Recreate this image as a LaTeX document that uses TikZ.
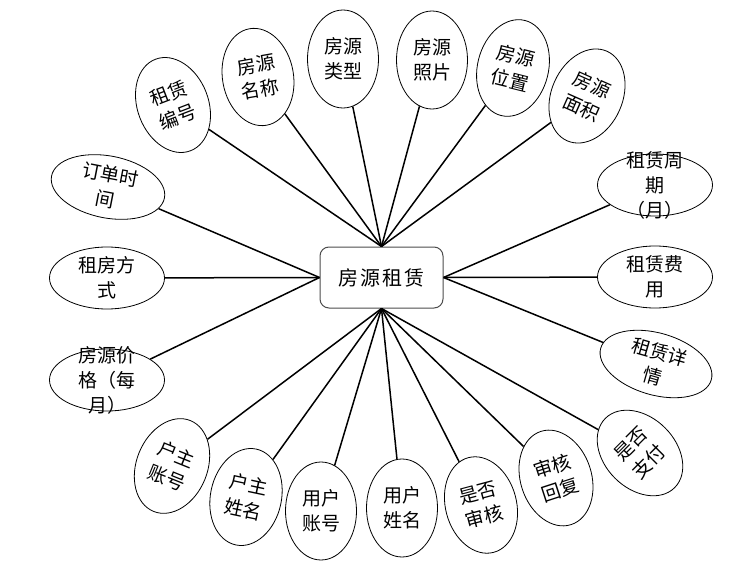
\documentclass[tikz,border=0pt]{standalone}
\usepackage{fontspec}
\setmainfont{Noto Sans CJK SC}
\usetikzlibrary{shapes.geometric}
\tikzset{
  vattr/.style={draw, ellipse, line width=0.8pt, inner sep=0pt, minimum width=71pt, minimum height=98pt},
  hattr/.style={draw, ellipse, line width=0.8pt, inner sep=0pt, minimum width=115pt, minimum height=62pt},
  lbl/.style={align=center, font=\fontsize{19}{25}\selectfont, inner sep=0pt},
  link/.style={line width=1.5pt},
  mainbox/.style={draw=black!70, line width=1pt, rounded corners=9pt, minimum width=123pt, minimum height=61pt, inner sep=0pt, font=\fontsize{20}{24}\selectfont},
}
\newcommand{\attr}[6]{%
  \node[#5, rotate=#4] (#1) at (#2,#3) {};
  \node[lbl, rotate=#4] at (#1.center) {#6};
}
\begin{document}
\begin{tikzpicture}[x=1pt,y=-1pt]
\useasboundingbox (0,0) rectangle (740,578);
\node[mainbox] (main) at (381.5,277.5) {房\hspace{2pt}源\hspace{2pt}租\hspace{2pt}赁};
% top
\attr{a1}{173}{105}{21}{vattr}{租赁\\编号}
\attr{a2}{258}{77}{10}{vattr}{房源\\名称}
\attr{a3}{343}{59}{0}{vattr}{房源\\类型}
\attr{a4}{432}{60}{0}{vattr}{房源\\照片}
\attr{a5}{513}{68}{-14}{vattr}{房源\\位置}
\attr{a6}{587}{96}{-24}{vattr}{房源\\面积}
% left
\attr{l1}{108}{187}{-11}{hattr}{订单时\\间}
\attr{l2}{107}{278}{0}{hattr}{租房方\\式}
\attr{l3}{107}{380}{0}{hattr}{房源价\\格（每\\月）}
% right
\attr{r1}{655}{185}{0}{hattr}{租赁周\\期\\（月）}
\attr{r2}{655}{277}{0}{hattr}{租赁费\\用}
\attr{r3}{656}{364}{-16}{hattr}{租赁详\\情}
% bottom
\attr{b1}{172}{466}{-22}{vattr}{户主\\账号}
\attr{b2}{246}{497}{-12}{vattr}{户主\\姓名}
\attr{b3}{321}{511}{0}{vattr}{用户\\账号}
\attr{b4}{402}{508}{0}{vattr}{用户\\姓名}
\attr{b5}{481}{505}{15}{vattr}{是否\\审核}
\attr{b6}{556}{478}{18}{vattr}{审核\\回复}
\attr{b7}{640}{453}{45}{vattr}{是否\\支付}
% links
\foreach \n in {a1,a2,a3,a4,a5,a6} \draw[link] (\n) -- (main.north);
\foreach \n in {l1,l2,l3} \draw[link] (\n) -- (main.west);
\foreach \n in {r1,r2,r3} \draw[link] (\n) -- (main.east);
\foreach \n in {b1,b2,b3,b4,b5,b6,b7} \draw[link] (\n) -- (main.south);
\end{tikzpicture}
\end{document}
